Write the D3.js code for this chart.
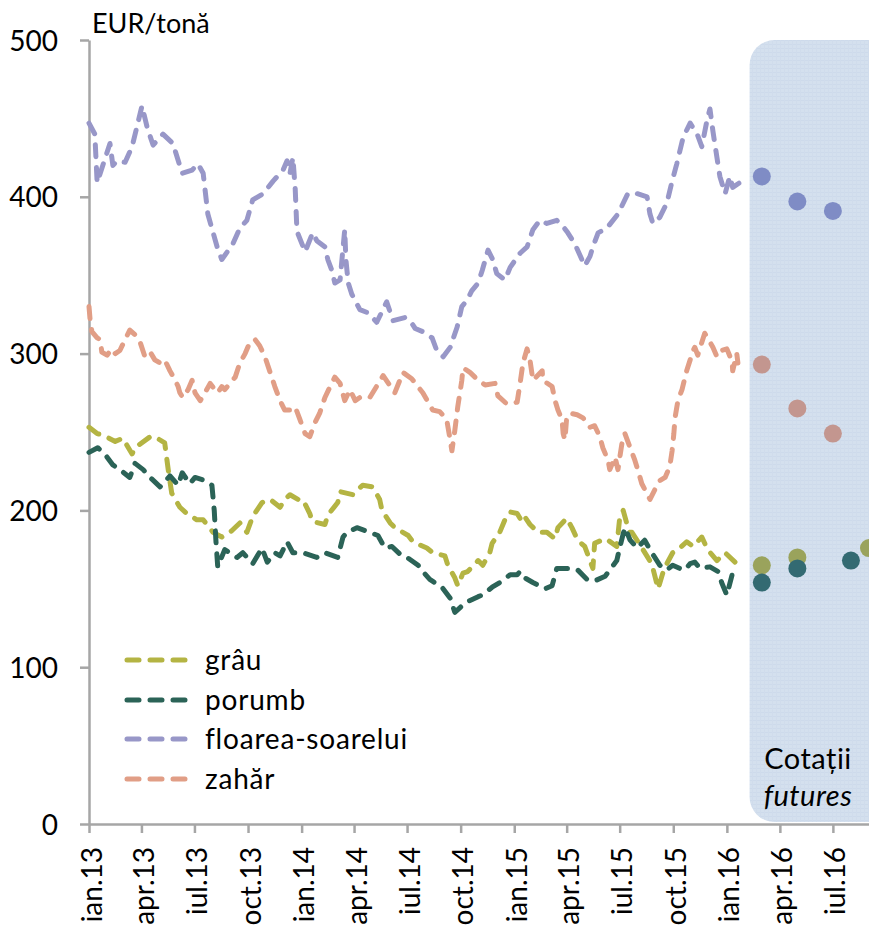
<!DOCTYPE html>
<html><head><meta charset="utf-8">
<script src="https://cdn.jsdelivr.net/npm/d3@7"></script>
<style>
body{margin:0;background:#fff}
text{font-family:Lato,"Open Sans","Liberation Sans",sans-serif;fill:#000}
</style>
</head><body>
<svg id="chart" width="869" height="930"></svg>
<script>
// ---- data ----
const startDate = new Date(2013, 0, 1);      // day 0
const endDate = new Date(2016, 8, 1);
const seriesNames = ["grâu", "porumb", "floarea-soarelui", "zahăr"];
const seriesColors = ["#b4b443", "#2b6357", "#9897c8", "#e19e86"];
const futuresColors = ["#9aa35c", "#336a72", "#7f8cc5", "#c3968f"];
const yTicks = [0, 100, 200, 300, 400, 500];
const xTickLabels = ["ian.13","apr.13","iul.13","oct.13","ian.14","apr.14","iul.14","oct.14",
                     "ian.15","apr.15","iul.15","oct.15","ian.16","apr.16","iul.16"];
const unitLabel = "EUR/tonă";
const futuresLabel = ["Cotații", "futures"];

// [days since 1 Jan 2013, EUR/t]
const wheatData = [[0,253],[14,249],[24,248],[45,244],[58,246],[74,236],[79,240],[105,247],[113,247],[130,243],
 [136,226],[142,211],[156,202],[168,198],[185,194],[196,194],[213,186],[228,183],[245,187],[259,192],[271,186],
 [281,196],[297,205],[311,207],[328,202],[336,207],[345,210],[359,207],[367,207],[379,198],[383,193],[405,191],
 [410,197],[427,205],[431,212],[453,210],[460,213],[470,216],[487,215],[499,207],[503,200],[517,192],[525,189],
 [548,184],[556,180],[580,176],[590,173],[611,171],[616,165],[628,157],[633,152],[642,160],[650,161],[668,168],
 [676,165],[688,173],[692,179],[705,186],[714,194],[723,199],[735,198],[743,193],[748,196],[757,191],[771,186],
 [786,186],[800,182],[805,189],[820,195],[829,189],[839,181],[851,177],[865,163],[868,179],[886,182],[891,181],
 [906,177],[911,195],[917,200],[923,192],[929,186],[932,186],[946,178],[951,175],[966,166],[977,150],[985,160],
 [989,164],[1002,173],[1011,175],[1026,180],[1037,177],[1052,183],[1062,175],[1078,168],[1092,173],[1109,167]];

const cornData = [[0,237],[15,240],[27,236],[41,229],[53,226],[70,221],[79,230],[93,226],[105,221],[122,215],
 [139,222],[153,216],[160,224],[173,217],[182,221],[199,219],[211,216],[215,200],[218,180],[221,164],[233,175],
 [254,170],[264,173],[281,166],[297,176],[306,167],[319,173],[328,171],[340,180],[350,173],[367,173],[391,170],
 [405,173],[427,170],[436,183],[443,186],[460,189],[482,186],[496,184],[508,176],[520,177],[537,171],[546,170],
 [565,165],[573,161],[585,156],[606,151],[620,144],[628,135],[637,138],[645,141],[668,145],[675,146],[692,151],
 [705,154],[723,159],[735,159],[740,161],[748,157],[762,154],[783,150],[795,152],[803,163],[826,163],[839,162],
 [855,156],[868,155],[886,158],[894,162],[906,168],[911,176],[917,185],[920,189],[929,181],[941,176],[954,181],
 [966,173],[980,165],[992,162],[1002,165],[1014,163],[1023,162],[1032,166],[1040,167],[1049,163],[1066,164],
 [1080,161],[1086,154],[1095,146],[1104,159],[1112,156]];

const sunflowerData = [[0,447],[10,440],[14,409],[36,434],[41,420],[48,423],[62,422],[74,432],[91,458],[100,444],
 [110,433],[127,440],[144,434],[160,415],[177,417],[187,421],[196,415],[204,389],[220,368],[228,360],[247,370],
 [259,380],[271,385],[281,398],[299,402],[316,410],[333,417],[340,423],[345,415],[350,425],[354,405],[357,378],
 [371,365],[384,377],[391,372],[405,368],[410,360],[417,353],[422,345],[431,347],[439,379],[441,360],[445,345],
 [451,338],[465,328],[479,326],[494,320],[511,333],[522,321],[542,323],[551,321],[560,316],[573,314],[589,310],
 [597,302],[608,298],[620,304],[632,317],[640,330],[649,334],[657,340],[668,345],[675,353],[685,366],[693,360],
 [700,351],[714,347],[723,355],[740,364],[752,368],[762,379],[774,385],[786,383],[803,385],[814,381],[822,377],
 [834,370],[851,356],[860,362],[865,368],[874,377],[889,380],[908,389],[925,402],[941,402],[958,400],[963,389],
 [968,383],[980,387],[992,396],[1001,410],[1009,421],[1020,438],[1032,447],[1044,440],[1052,432],[1061,449],
 [1066,456],[1071,442],[1078,425],[1083,413],[1092,402],[1100,413],[1105,406],[1121,410]];

const sugarData = [[0,330],[2,321],[5,314],[14,310],[19,309],[22,301],[31,299],[39,303],[45,300],[53,302],[62,309],
 [70,315],[79,312],[88,307],[96,298],[105,301],[113,296],[122,294],[130,296],[139,289],[148,283],[153,279],
 [156,275],[161,272],[170,277],[177,283],[182,275],[191,270],[199,275],[208,281],[216,277],[221,275],[228,279],
 [233,277],[242,281],[251,285],[259,294],[268,300],[276,307],[285,309],[293,305],[302,298],[311,288],[319,279],
 [328,270],[336,264],[345,264],[354,266],[362,258],[371,249],[379,247],[388,256],[396,262],[405,272],[414,279],
 [422,285],[431,281],[439,270],[448,277],[457,270],[465,272],[482,272],[505,286],[525,275],[539,288],[554,284],
 [573,275],[590,264],[602,263],[614,258],[620,245],[623,238],[628,251],[633,266],[640,283],[642,291],[654,288],
 [668,283],[680,280],[697,281],[702,273],[717,268],[735,269],[740,281],[745,294],[752,303],[757,296],[762,283],
 [778,289],[779,283],[795,279],[800,270],[805,264],[812,258],[814,249],[817,245],[820,259],[826,262],[838,261],
 [848,259],[860,253],[868,254],[877,247],[882,240],[891,232],[894,226],[903,234],[908,226],[915,243],[920,249],
 [929,240],[937,232],[942,226],[949,217],[963,207],[971,213],[980,219],[989,221],[997,228],[1001,238],[1004,249],
 [1006,259],[1011,270],[1018,277],[1026,289],[1032,296],[1037,302],[1040,304],[1045,299],[1057,313],[1062,310],
 [1071,304],[1078,298],[1086,302],[1095,303],[1104,295],[1105,289],[1112,300],[1114,294]];

// futures quotes: [date, EUR/t]
const wheatFutures = [["2016-03-01",165],["2016-05-01",170],["2016-09-01",176]];
const cornFutures = [["2016-03-01",154],["2016-05-01",163],["2016-08-01",168]];
const sunflowerFutures = [["2016-03-01",413],["2016-05-01",397],["2016-07-01",391]];
const sugarFutures = [["2016-03-01",293],["2016-05-01",265],["2016-07-01",249]];

// ---- chart ----
const svg = d3.select("#chart");
const dayToDate = d => d3.timeDay.offset(startDate, d);
const parse = d3.timeParse("%Y-%m-%d");

const x = d3.scaleTime().domain([startDate, endDate]).range([89, 869]);
const y = d3.scaleLinear().domain([0, 500]).range([824, 40]);

// futures panel
const defs = svg.append("defs");
const pat = defs.append("pattern").attr("id","grid").attr("patternUnits","userSpaceOnUse")
  .attr("width",4).attr("height",4);
pat.append("rect").attr("width",4).attr("height",4).attr("fill","#d4e0ee");
pat.append("rect").attr("width",4).attr("height",1).attr("fill","#cddaeb");
pat.append("rect").attr("width",1).attr("height",4).attr("fill","#d0dcec");

const panelStart = parse("2016-02-09");
svg.append("rect")
  .attr("x", x(panelStart)).attr("y", y(500))
  .attr("width", 180).attr("height", y(0) - y(500) - 2)
  .attr("rx", 25).attr("ry", 25)
  .attr("fill", "url(#grid)");

// axes
const axisColor = "#a6a6a6";
const yAxis = svg.append("g").attr("transform", `translate(${x(startDate)},0)`)
  .call(d3.axisLeft(y).tickValues(yTicks).tickSize(9).tickSizeOuter(0).tickPadding(22));
const xTickDates = xTickLabels.map((_, i) => d3.timeMonth.offset(startDate, i * 3));
const xAxis = svg.append("g").attr("transform", `translate(0,${y(0)})`)
  .call(d3.axisBottom(x).tickValues(xTickDates).tickSize(9).tickSizeOuter(0)
    .tickFormat((d, i) => xTickLabels[i]));
[yAxis, xAxis].forEach(g => {
  g.select(".domain").attr("stroke", axisColor).attr("stroke-width", 2.5);
  g.selectAll(".tick line").attr("stroke", axisColor).attr("stroke-width", 2.5);
  g.selectAll("text").style("font-size", "28px").attr("fill", "#000");
});
yAxis.selectAll("text").attr("dy", "0.36em");
xAxis.selectAll("text")
  .attr("transform", "rotate(-90)")
  .attr("text-anchor", "end")
  .attr("x", -23).attr("y", 2).attr("dy", "0.36em");

svg.append("text").attr("x", 92).attr("y", 33).style("font-size", "27px").text(unitLabel);

// lines
const allSeries = [wheatData, cornData, sunflowerData, sugarData];
const line = d3.line().x(d => x(dayToDate(d[0]))).y(d => y(d[1]));
const dash = "12,11";
allSeries.forEach((s, i) => {
  svg.append("path").datum(s).attr("d", line)
    .attr("fill", "none").attr("stroke", seriesColors[i]).attr("stroke-width", 5)
    .attr("stroke-linecap", "round").attr("stroke-linejoin", "round")
    .attr("stroke-dasharray", dash);
});

// futures dots
const allFutures = [wheatFutures, cornFutures, sunflowerFutures, sugarFutures];
allFutures.forEach((f, i) => {
  svg.append("g").selectAll("circle").data(f).join("circle")
    .attr("cx", d => x(parse(d[0]))).attr("cy", d => y(d[1])).attr("r", 9)
    .attr("fill", futuresColors[i]);
});

// futures label
const fl = svg.append("text").attr("text-anchor", "middle").style("font-size", "29px")
  .style("letter-spacing", "0.5px");
fl.append("tspan").attr("x", 808).attr("y", 769).text(futuresLabel[0]);
fl.append("tspan").attr("x", 808).attr("y", 806).style("font-style", "italic").text(futuresLabel[1]);

// legend
const legendY = [660, 700, 739, 779];
const lg = svg.append("g");
seriesNames.forEach((n, i) => {
  lg.append("line").attr("x1", 127).attr("x2", 187).attr("y1", legendY[i]).attr("y2", legendY[i])
    .attr("stroke", seriesColors[i]).attr("stroke-width", 5).attr("stroke-linecap", "round")
    .attr("stroke-dasharray", dash);
  lg.append("text").attr("x", 205).attr("y", legendY[i]).attr("dy", "0.35em")
    .style("font-size", "28px").style("letter-spacing", "0.8px").text(n);
});
</script>
</body></html>
